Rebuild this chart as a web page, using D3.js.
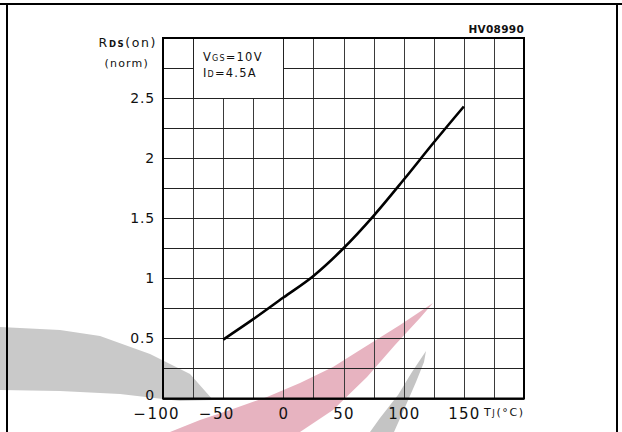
<!DOCTYPE html>
<html>
<head>
<meta charset="utf-8">
<script src="https://cdn.jsdelivr.net/npm/d3@7"></script>
<style>
  html, body { margin: 0; padding: 0; background: #fff; }
  svg { display: block; font-family: "DejaVu Sans", "Liberation Sans", sans-serif; }
</style>
</head>
<body>
<svg id="chart" width="622" height="432"></svg>
<script>
// ---- data ----
const tempC = [-50, -25, 0, 25, 50, 75, 100, 125, 150];
const rdsNorm = [0.49, 0.66, 0.84, 1.02, 1.25, 1.52, 1.82, 2.13, 2.43];
const xTicks = [-100, -50, 0, 50, 100, 150];
const yTicks = [0, 0.5, 1, 1.5, 2, 2.5];
const xGrid = [-100, -75, -50, -25, 0, 25, 50, 75, 100, 125, 150, 175, 200];
const yGrid = [0, 0.25, 0.5, 0.75, 1, 1.25, 1.5, 1.75, 2, 2.25, 2.5, 2.75, 3];
const yTickLabels = ["0", "0.5", "1", "1.5", "2", "2.5"];
const xTickLabels = ["100", "50", "0", "50", "100", "150"];   // digits; sign from xTicks

const svg = d3.select("#chart");
const x = d3.scaleLinear().domain([-100, 200]).range([163, 524]);
const y = d3.scaleLinear().domain([0, 3]).range([398.5, 38]);

// ---- watermark (decorative, beneath the grid) ----
const wm = svg.append("g");
wm.append("path")
  .attr("d", "M0,327 L60,330 L100,336 L150,354 L190,374 L213,400 L180,401 L120,394 L60,391 L0,390 Z")
  .attr("fill", "#c9c9c9");
wm.append("path")
  .attr("d", "M433,303 L400,325 L360,350 L333,367 L300,383 L267,397 L230,410 L200,420 L170,432 L300,432 L333,410 L367,377 L395,345 L420,318 Z")
  .attr("fill", "#e7b3c0");
wm.append("path")
  .attr("d", "M426,351 L412,372 L398,395 L380,418 L370,432 L394,432 L406,405 L416,382 L424,362 Z")
  .attr("fill", "#c4c4c4");

// ---- outer frame ----
svg.append("line").attr("x1", 0).attr("x2", 622).attr("y1", 4).attr("y2", 4)
  .attr("stroke", "#000").attr("stroke-width", 2);
svg.append("line").attr("x1", 7).attr("x2", 7).attr("y1", 3).attr("y2", 432)
  .attr("stroke", "#000").attr("stroke-width", 2);
svg.append("line").attr("x1", 617).attr("x2", 617).attr("y1", 3).attr("y2", 432)
  .attr("stroke", "#000").attr("stroke-width", 2);

// ---- grid ----
const grid = svg.append("g");
grid.selectAll("line.v").data(xGrid).enter().append("line")
  .attr("class", "v")
  .attr("x1", d => Math.round(x(d)) + 0.5).attr("x2", d => Math.round(x(d)) + 0.5)
  .attr("y1", y(3)).attr("y2", y(0))
  .attr("stroke", "#3a3a3a").attr("stroke-width", 1);
grid.selectAll("line.h").data(yGrid).enter().append("line")
  .attr("class", "h")
  .attr("y1", d => Math.round(y(d)) + 0.5).attr("y2", d => Math.round(y(d)) + 0.5)
  .attr("x1", x(-100)).attr("x2", x(200))
  .attr("stroke", "#222").attr("stroke-width", 1);

// legend box (white cell block)
svg.append("rect")
  .attr("x", Math.round(x(-75)) + 0.5).attr("y", Math.round(y(3)) + 0.5)
  .attr("width", Math.round(x(0)) - Math.round(x(-75)))
  .attr("height", Math.round(y(2.5)) - Math.round(y(3)))
  .attr("fill", "#fff").attr("stroke", "#222").attr("stroke-width", 1);

// plot border
svg.append("rect")
  .attr("x", x(-100)).attr("y", y(3))
  .attr("width", x(200) - x(-100)).attr("height", y(0) - y(3))
  .attr("fill", "none").attr("stroke", "#000").attr("stroke-width", 2);

// ---- curve ----
const line = d3.line()
  .x((d, i) => x(tempC[i]))
  .y(d => y(d))
  .curve(d3.curveMonotoneX);
svg.append("path")
  .attr("d", line(rdsNorm))
  .attr("fill", "none").attr("stroke", "#000").attr("stroke-width", 2.6)
  .attr("stroke-linecap", "butt");

// ---- tick labels ----
svg.selectAll("text.yt").data(yTicks).enter().append("text")
  .attr("class", "yt")
  .attr("x", 155).attr("y", d => y(d) + (d === 0 ? 1 : 5))
  .attr("text-anchor", "end")
  .attr("font-size", 14).attr("letter-spacing", 0.8)
  .attr("fill", "#111")
  .text((d, i) => yTickLabels[i]);

const xtg = svg.append("g").attr("font-size", 15).attr("fill", "#111");
xTicks.forEach((d, i) => {
  const t = xtg.append("text")
    .attr("x", x(d) + 0.6).attr("y", 419)
    .attr("text-anchor", "middle").attr("letter-spacing", 1.2)
    .text(xTickLabels[i]);
  if (d < 0) {
    const w = t.node().getComputedTextLength();
    xtg.append("text")
      .attr("x", x(d) - w / 2 - 1).attr("y", 419)
      .attr("text-anchor", "end")
      .text("\u2212");
  }
});

// ---- axis titles ----
const yt = svg.append("text").attr("x", 157).attr("y", 47)
  .attr("text-anchor", "end").attr("font-size", 12.5).attr("letter-spacing", 1.6).attr("fill", "#111");
yt.append("tspan").text("R");
yt.append("tspan").attr("font-size", 8.5).attr("font-weight", "bold").text("DS");
yt.append("tspan").text("(on)");

svg.append("text").attr("x", 149).attr("y", 67)
  .attr("text-anchor", "end").attr("font-size", 11).attr("letter-spacing", 1.2).attr("fill", "#111")
  .text("(norm)");

const xt = svg.append("text").attr("x", 484).attr("y", 416)
  .attr("font-size", 11).attr("letter-spacing", 1.6).attr("fill", "#111");
xt.append("tspan").text("T");
xt.append("tspan").attr("font-size", 8.5).text("J");
xt.append("tspan").text("(\u00B0C)");

// ---- legend text ----
const l1 = svg.append("text").attr("x", 203).attr("y", 61)
  .attr("font-size", 11.5).attr("letter-spacing", 1.2).attr("fill", "#111");
l1.append("tspan").text("V");
l1.append("tspan").attr("font-size", 8).text("GS");
l1.append("tspan").text("=10V");

const l2 = svg.append("text").attr("x", 203).attr("y", 77)
  .attr("font-size", 11.5).attr("letter-spacing", 1.2).attr("fill", "#111");
l2.append("tspan").text("I");
l2.append("tspan").attr("font-size", 8).text("D");
l2.append("tspan").text("=4.5A");

// ---- figure code ----
svg.append("text").attr("x", 524).attr("y", 33)
  .attr("text-anchor", "end").attr("font-size", 10.5).attr("font-weight", "bold")
  .attr("letter-spacing", 0.3).attr("fill", "#111")
  .text("HV08990");
</script>
</body>
</html>
